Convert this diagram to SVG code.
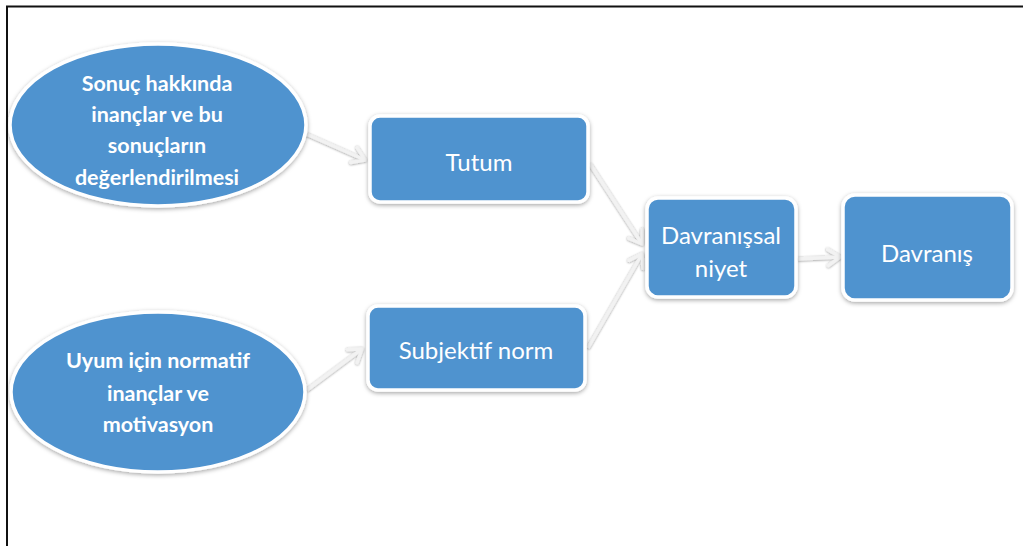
<svg xmlns="http://www.w3.org/2000/svg" width="1023" height="546" viewBox="0 0 1023 546">
  <defs>
    <style>
      .node-shape { fill: #5093cf; stroke: #ffffff; stroke-width: 3.5; filter: url(#shadow); }
      .oval-text { font-family: Lato, "Open Sans", sans-serif; font-weight: bold; font-size: 21.5px; fill: #ffffff; text-anchor: middle; }
      .box-text { font-family: Lato, "Open Sans", sans-serif; font-size: 24px; fill: #ffffff; text-anchor: middle; }
      .link { fill: none; stroke: #f2f2f2; stroke-width: 3.5; marker-end: url(#chevron); filter: url(#lineshadow); }
    </style>
    <filter id="shadow" x="-10%" y="-10%" width="120%" height="130%">
      <feDropShadow dx="0" dy="1.5" stdDeviation="2" flood-color="#000000" flood-opacity="0.35"/>
    </filter>
    <filter id="lineshadow" filterUnits="userSpaceOnUse" x="0" y="0" width="1023" height="546">
      <feDropShadow dx="0" dy="0.5" stdDeviation="0.8" flood-color="#000000" flood-opacity="0.45"/>
    </filter>
    <marker id="chevron" markerUnits="userSpaceOnUse" markerWidth="24" markerHeight="24" refX="14" refY="10" orient="auto" viewBox="0 0 24 20">
      <path d="M2,2 L14,10 L2,18" fill="none" stroke="#f2f2f2" stroke-width="3.5" stroke-linecap="round" stroke-linejoin="round"/>
    </marker>
  </defs>

  <rect x="0" y="0" width="1023" height="546" fill="#ffffff"/>
  <!-- frame: top and left edges -->
  <path d="M7,546 V6.5 H1023" fill="none" stroke="#111111" stroke-width="2"/>

  <g id="connectors">
    <path class="link" d="M306,134 L365,160"/>
    <path class="link" d="M307,390 L362,349"/>
    <path class="link" d="M590,164 L642,244"/>
    <path class="link" d="M588,348 L642,254"/>
    <path class="link" d="M798,259 L840,257"/>
  </g>

  <g id="node-sonuc">
    <ellipse class="node-shape" cx="158" cy="125" rx="148" ry="81"/>
    <text class="oval-text" x="157" y="91">Sonuç hakkında</text>
    <text class="oval-text" x="157" y="122">inançlar ve bu</text>
    <text class="oval-text" x="157" y="153">sonuçların</text>
    <text class="oval-text" x="157" y="185">değerlendirilmesi</text>
  </g>

  <g id="node-uyum">
    <ellipse class="node-shape" cx="158" cy="392" rx="147" ry="80"/>
    <text class="oval-text" x="158" y="368">Uyum için normatif</text>
    <text class="oval-text" x="158" y="401">inançlar ve</text>
    <text class="oval-text" x="158" y="432">motivasyon</text>
  </g>

  <g id="node-tutum">
    <rect class="node-shape" x="370" y="116" width="218" height="86" rx="10"/>
    <text class="box-text" x="479" y="171">Tutum</text>
  </g>

  <g id="node-subjektif">
    <rect class="node-shape" x="368" y="306" width="217" height="84" rx="10"/>
    <text class="box-text" x="476" y="359">Subjektif norm</text>
  </g>

  <g id="node-niyet">
    <rect class="node-shape" x="647" y="198" width="149" height="99" rx="11"/>
    <text class="box-text" x="721" y="244">Davranışsal</text>
    <text class="box-text" x="721" y="277">niyet</text>
  </g>

  <g id="node-davranis">
    <rect class="node-shape" x="843" y="195" width="169" height="105" rx="12"/>
    <text class="box-text" x="927" y="262">Davranış</text>
  </g>
</svg>
